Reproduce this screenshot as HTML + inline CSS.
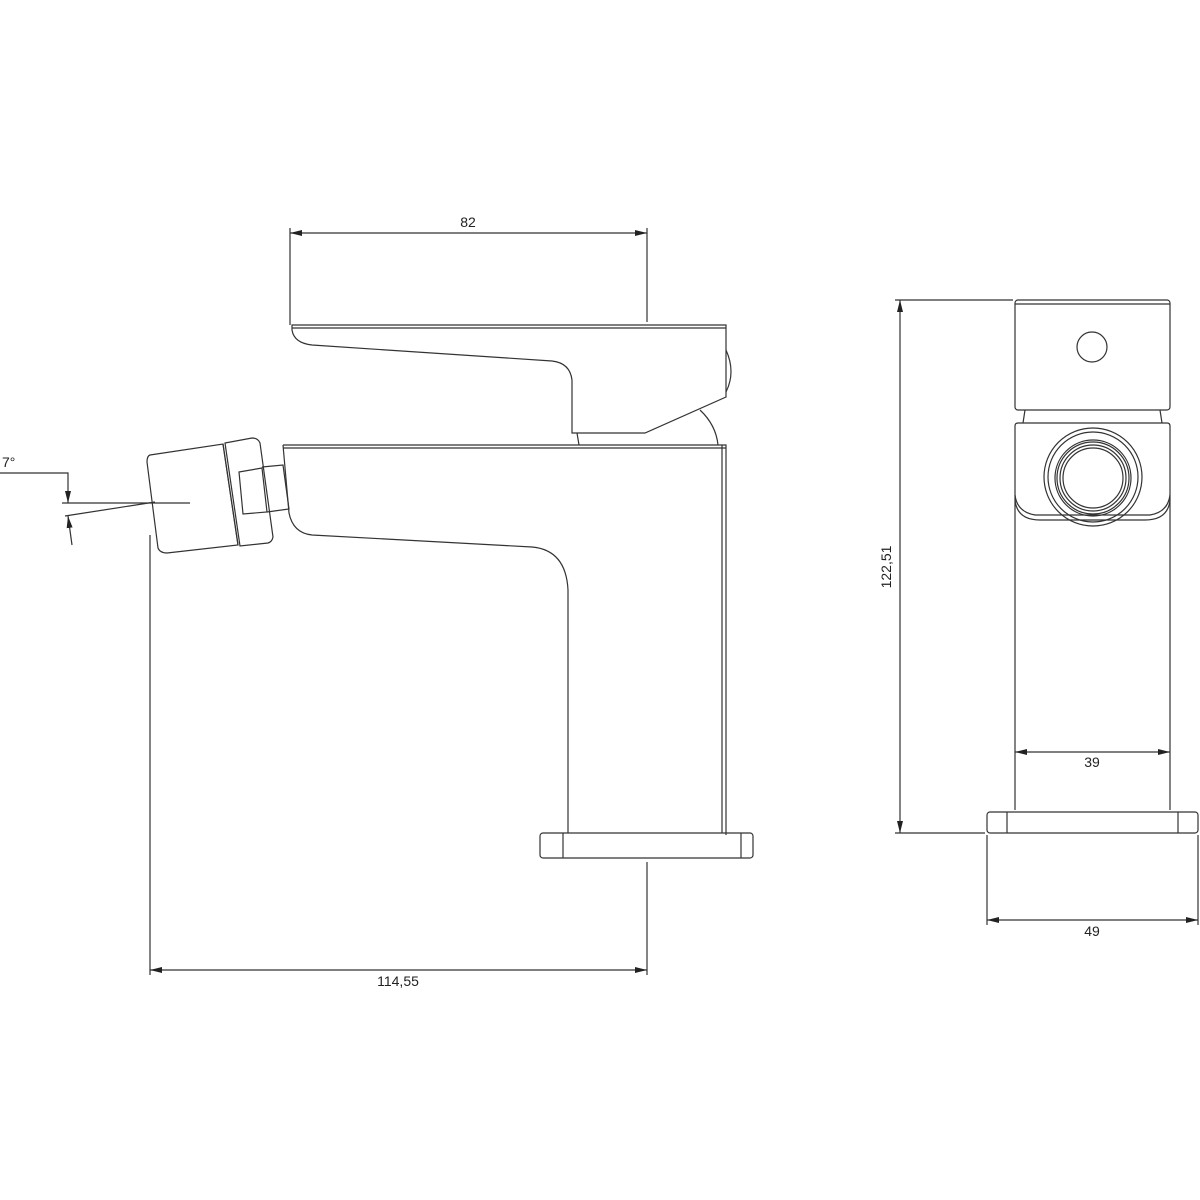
<!DOCTYPE html>
<html><head><style>html,body{margin:0;background:#fff}svg{display:block}text{font-family:"Liberation Sans",sans-serif;font-size:14px;fill:#222}</style></head>
<body>
<svg width="1200" height="1200" viewBox="0 0 1200 1200" xmlns="http://www.w3.org/2000/svg">
<defs>
<marker id="a" markerWidth="12" markerHeight="6" refX="12" refY="3" orient="auto-start-reverse" markerUnits="userSpaceOnUse"><path d="M0,0 L12,3 L0,6z" fill="#222"/></marker>
</defs>
<g fill="none" stroke="#333" stroke-width="1.2">
<!-- dim 82 -->
<line x1="290" y1="228" x2="290" y2="325"/><line x1="647" y1="228" x2="647" y2="322"/>
<line x1="290" y1="233" x2="647" y2="233" marker-start="url(#a)" marker-end="url(#a)"/>
<!-- lever -->
<path d="M292,325 L726,325 L726,397 L645,433 L572,433 L572,380 Q570,363 552,361 L312,345 Q294,343 292,330 Z"/>
<line x1="292" y1="328" x2="726" y2="328"/>
<path d="M726,350 Q736,372 726,392"/>
<path d="M700,410 Q716,425 718,445"/>
<path d="M577,433 L579,445"/>
<!-- body -->
<path d="M283,445 L726,445 L726,835"/>
<line x1="283" y1="448" x2="726" y2="448"/>
<line x1="722" y1="445" x2="722" y2="833"/>
<path d="M283,445 L289,513 Q293,533 312,535 L532,547 Q566,550 568,590 L568,833"/>
<!-- base -->
<rect x="540" y="833" width="213" height="25" rx="3"/>
<line x1="563" y1="833" x2="563" y2="858"/><line x1="741" y1="833" x2="741" y2="858"/>
<!-- nozzle -->
<path d="M150,455 L223,444 L238,545 L167,553 Q160,553 158,548 L147,462 Q147,456 150,455 Z"/>
<path d="M225,443 L252,438 Q258,438 260,443 L273,537 Q272,542 268,543 L240,546 Z"/>
<line x1="223" y1="444" x2="238" y2="545"/>
<path d="M262,467 L283,465 L289,509 L267,512"/>
<path d="M239,472 L262,468 L267,512 L243,514 Z"/>
<!-- 7 deg -->
<line x1="62" y1="503" x2="190" y2="503"/>
<line x1="65" y1="516" x2="155" y2="502"/>
<polyline points="0,473 68,473 68,503" marker-end="url(#a)"/>
<line x1="72" y1="545" x2="68" y2="516" marker-end="url(#a)"/>
<!-- dim 114,55 -->
<line x1="150" y1="535" x2="150" y2="975"/><line x1="647" y1="862" x2="647" y2="975"/>
<line x1="150" y1="970" x2="647" y2="970" marker-start="url(#a)" marker-end="url(#a)"/>
<!-- right view -->
<line x1="895" y1="300" x2="1013" y2="300"/><line x1="895" y1="833" x2="985" y2="833"/>
<line x1="900" y1="300" x2="900" y2="833" marker-start="url(#a)" marker-end="url(#a)"/>
<rect x="1015" y="300" width="155" height="110" rx="3"/>
<line x1="1015" y1="304" x2="1170" y2="304"/>
<circle cx="1092" cy="347" r="15"/>
<line x1="1025" y1="410" x2="1023" y2="423"/><line x1="1160" y1="410" x2="1162" y2="423"/>
<path d="M1015,810 L1015,426 Q1015,423 1018,423 L1167,423 Q1170,423 1170,426 L1170,810"/>
<path d="M1015,495 Q1017,512 1035,515 L1150,515 Q1168,512 1170,495"/>
<path d="M1015,500 Q1017,520 1040,520 L1145,520 Q1168,520 1170,500"/>
<circle cx="1093" cy="477" r="49"/><circle cx="1093" cy="477" r="45"/>
<circle cx="1093" cy="478" r="38"/><circle cx="1093" cy="478" r="36"/><circle cx="1093" cy="478" r="33"/><circle cx="1093" cy="478" r="30"/>
<line x1="1015" y1="752" x2="1170" y2="752" marker-start="url(#a)" marker-end="url(#a)"/>
<rect x="987" y="812" width="211" height="21" rx="3"/>
<line x1="1007" y1="812" x2="1007" y2="833"/><line x1="1178" y1="812" x2="1178" y2="833"/>
<line x1="987" y1="835" x2="987" y2="925"/><line x1="1198" y1="835" x2="1198" y2="925"/>
<line x1="987" y1="920" x2="1198" y2="920" marker-start="url(#a)" marker-end="url(#a)"/>
</g>
<text x="468" y="227" text-anchor="middle">82</text>
<text x="398" y="986" text-anchor="middle">114,55</text>
<text x="2" y="467">7°</text>
<text x="1092" y="767" text-anchor="middle">39</text>
<text x="1092" y="936" text-anchor="middle">49</text>
<text transform="translate(891,567) rotate(-90)" text-anchor="middle">122,51</text>
</svg>
</body></html>
